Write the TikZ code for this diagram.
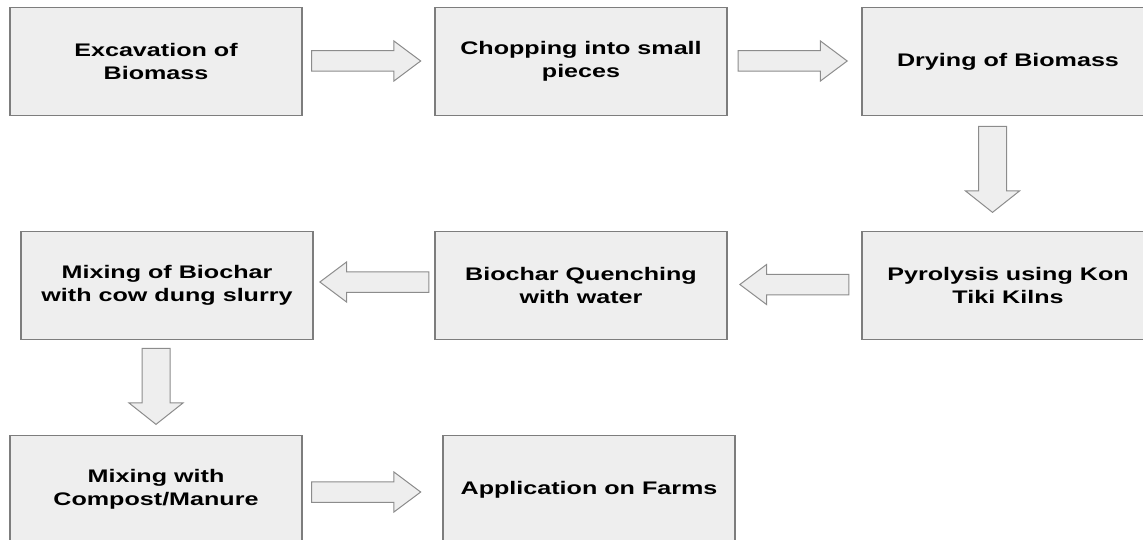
\documentclass[tikz,border=0pt]{standalone}
\usepackage{fontspec}
\newfontfamily\boxfont{Liberation Sans}[FakeStretch=1.38]
\usetikzlibrary{shapes.arrows,calc}
\definecolor{boxfill}{RGB}{238,238,238}
\definecolor{boxline}{RGB}{125,125,125}
\definecolor{arrline}{RGB}{140,140,140}
\begin{document}
\begin{tikzpicture}[x=1pt,y=-1pt,
  stepbox/.style={draw=boxline, fill=boxfill, line width=1.3pt,
    minimum width=292pt, minimum height=108pt, inner sep=0pt, align=center,
    font=\boxfont\bfseries\fontsize{18.2}{23.3}\selectfont},
  harr/.style={single arrow, draw=arrline, fill=boxfill, line width=1pt,
    inner xsep=0pt, inner ysep=9.75pt, minimum height=109pt,
    single arrow head extend=9.75pt, single arrow tip angle=73.7, anchor=tip},
  varr/.style={single arrow, draw=arrline, fill=boxfill, line width=1pt,
    inner xsep=0pt, inner ysep=13.5pt, minimum height=#1,
    single arrow head extend=13pt, single arrow tip angle=103.2, rotate=-90,
    anchor=tip},
]
\useasboundingbox (0,0) rectangle (1143,540);
\clip (0,0) rectangle (1143,540);

\node[stepbox] (b1) at (156,61.5) {Excavation of\\Biomass};
\node[stepbox] (b2) at (581,61.5) {Chopping into small\\pieces};
\node[stepbox] (b3) at (1008,61.5) {Drying of Biomass};
\node[stepbox] (b4) at (167,285.5) {Mixing of Biochar\\with cow dung slurry};
\node[stepbox] (b5) at (581,285.5) {Biochar Quenching\\with water};
\node[stepbox] (b6) at (1008,285.5) {Pyrolysis using Kon\\Tiki Kilns};
\node[stepbox] (b7) at (156,489.5) {Mixing with\\Compost/Manure};
\node[stepbox] (b8) at (589,489.5) {Application on Farms};

\node[harr] (a1) at (421.5,61) {};
\node[harr] (a2) at (848,61) {};
\node[varr=86pt] (a3) at (992.5,213) {};
\node[harr, rotate=180] (a4) at (319,282) {};
\node[harr, rotate=180] (a5) at (739,284.5) {};
\node[varr=76pt] (a6) at (156,425) {};
\node[harr] (a7) at (421.5,492) {};
\end{tikzpicture}
\end{document}
